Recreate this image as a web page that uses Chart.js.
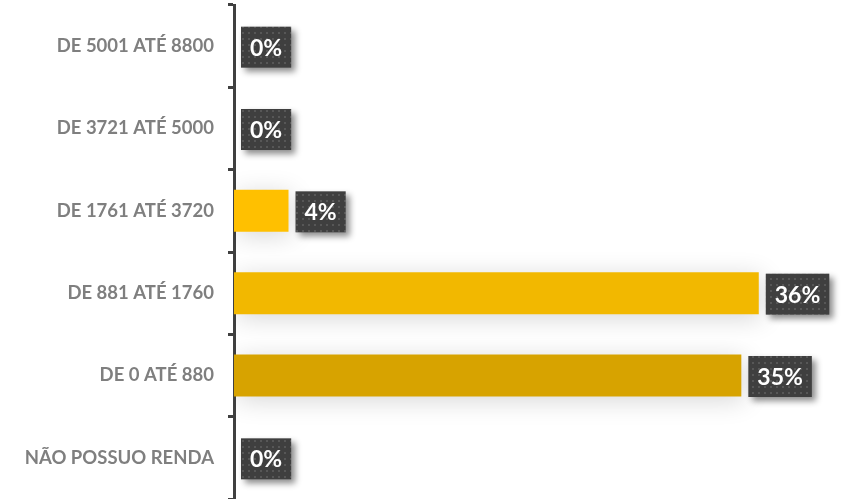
<!DOCTYPE html>
<html>
<head>
<meta charset="utf-8">
<title></title>
<script src="https://cdn.jsdelivr.net/npm/chart.js@4.4.1/dist/chart.umd.min.js"></script>
<style>
	body { margin: 0; background: #fff; }
</style>
</head>
<body>
<canvas id="chart" width="843" height="499"></canvas>
<script>
// faixas de renda (de cima para baixo) e percentuais
var categorias = ["DE 5001 ATÉ 8800", "DE 3721 ATÉ 5000", "DE 1761 ATÉ 3720", "DE 881 ATÉ 1760", "DE 0 ATÉ 880", "NÃO POSSUO RENDA"];
var percentuais = [0, 0, 3.75, 36.1, 34.9, 0];
var cores = ["#FFC000", "#FFC000", "#FFC000", "#F2B800", "#D7A300", "#FFC000"];

// padrao pontilhado das caixas de rotulo
function padraoPontos(ctx) {
	var c = document.createElement('canvas');
	c.width = 6; c.height = 6;
	var p = c.getContext('2d');
	p.fillStyle = '#3f3f3f';
	p.fillRect(0, 0, 6, 6);
	p.fillStyle = '#575757';
	p.fillRect(2, 2, 2, 2);
	return ctx.createPattern(c, 'repeat');
}

// sombra suave atras das barras
var sombraBarras = {
	id: 'sombraBarras',
	beforeDatasetsDraw: function(chart) {
		var ctx = chart.ctx;
		ctx.save();
		ctx.shadowColor = 'rgba(0,0,0,0.16)';
		ctx.shadowBlur = 26;
		ctx.shadowOffsetX = 3;
		ctx.shadowOffsetY = 4;
	},
	afterDatasetsDraw: function(chart) {
		chart.ctx.restore();
	}
};

// caixas escuras com o valor
var rotulos = {
	id: 'rotulos',
	afterDraw: function(chart) {
		var ctx = chart.ctx;
		var meta = chart.getDatasetMeta(0);
		var fundo = padraoPontos(ctx);
		ctx.save();
		ctx.font = 'bold 23px Lato';
		meta.data.forEach(function(bar, i) {
			var txt = Math.round(percentuais[i]) + '%';
			var w = ctx.measureText(txt).width + 18;
			var h = 41;
			var x = bar.x + 7;
			var y = bar.y - h / 2 + 1;
			ctx.save();
			ctx.shadowColor = 'rgba(0,0,0,0.45)';
			ctx.shadowBlur = 6;
			ctx.shadowOffsetX = 4;
			ctx.shadowOffsetY = 4;
			ctx.fillStyle = fundo;
			ctx.fillRect(x, y, w, h);
			ctx.restore();
			ctx.fillStyle = '#ffffff';
			ctx.textAlign = 'center';
			ctx.textBaseline = 'middle';
			ctx.fillText(txt, x + w / 2, bar.y + 2);
		});
		ctx.restore();
	}
};

var canvas = document.getElementById('chart').getContext('2d');
new Chart(canvas, {
	type: 'bar',
	data: {
		labels: categorias,
		datasets: [{
			data: percentuais,
			backgroundColor: cores,
			borderWidth: 0,
			categoryPercentage: 1,
			barPercentage: 0.51
		}]
	},
	plugins: [sombraBarras, rotulos],
	options: {
		indexAxis: 'y',
		responsive: false,
		animation: false,
		layout: { padding: { top: 5, right: 13, bottom: 0, left: 0 } },
		plugins: {
			legend: { display: false },
			tooltip: { enabled: false }
		},
		scales: {
			x: {
				display: false,
				min: 0,
				max: 41
			},
			y: {
				afterFit: function(scale) {
					scale.width = 234;
					scale.paddingTop = 0;
					scale.paddingBottom = 0;
				},
				border: { display: true, color: '#404040', width: 3 },
				grid: {
					display: true,
					drawOnChartArea: false,
					tickLength: 6,
					color: '#404040',
					lineWidth: 3
				},
				ticks: {
					color: '#7f7f7f',
					padding: 14,
					font: { family: 'Lato', weight: 'bold', size: 18.5 }
				}
			}
		}
	}
});
</script>
</body>
</html>
